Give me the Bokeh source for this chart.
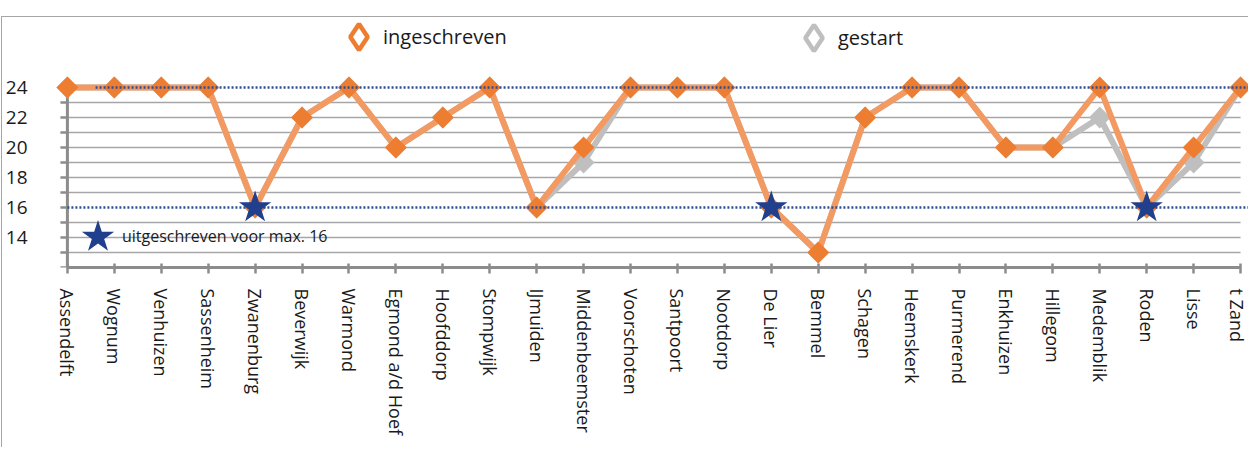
import math
import numpy as np
from bokeh.plotting import figure
from bokeh.models import ColumnDataSource, FixedTicker, Legend, LegendItem, Range1d
from bokeh.embed import file_html
from bokeh.resources import INLINE

# ---------------- data ----------------
categories = ["Assendelft", "Wognum", "Venhuizen", "Sassenheim", "Zwanenburg", "Beverwijk",
              "Warmond", "Egmond a/d Hoef", "Hoofddorp", "Stompwijk", "IJmuiden",
              "Middenbeemster", "Voorschoten", "Santpoort", "Nootdorp", "De Lier", "Bemmel",
              "Schagen", "Heemskerk", "Purmerend", "Enkhuizen", "Hillegom", "Medemblik",
              "Roden", "Lisse", "t Zand"]
ingeschreven = [24, 24, 24, 24, 16, 22, 24, 20, 22, 24, 16, 20, 24, 24, 24, 16, 13, 22, 24, 24,
                20, 20, 24, 16, 20, 24]
gestart = [24, 24, 24, 24, 16, 22, 24, 20, 22, 24, 16, 19, 24, 24, 24, 16, 13, 22, 24, 24,
           20, 20, 22, 16, 19, 24]
max16 = ["Zwanenburg", "De Lier", "Roden"]
max16_value = 16
y_tick_labels = [14, 16, 18, 20, 22, 24]
y_min, y_max = 12, 24
ref_levels = [24, 16]
ref_starts = [0.6, 0.0]

# ---------------- styling ----------------
ORANGE = "#ED7D31"
ORANGE_LINE = "#F29A62"
GREY = "#BFBFBF"
BLUE = "#203F8C"
DOT_BLUE = "#2F4E93"
AXIS = "#8C8C8C"
GRID = "#A6A6A6"
TEXT = "#1a1a1a"
FONT = "Open Sans"

W, H = 1247, 431
LEFT, BOTTOM = 42, 181
U = 47.24          # px per category
V = 15.0           # px per unit on y
frame_w = W - LEFT
frame_h = H - BOTTOM
x0 = -15.0 / U
ORIGIN = (10, 17)  # page position of the figure content
FRAME_LEFT = ORIGIN[0] + LEFT
FRAME_BOTTOM = ORIGIN[1] + frame_h

x = list(range(len(categories)))
src = ColumnDataSource(dict(x=x, ing=ingeschreven, ges=gestart))
star_x = [categories.index(c) for c in max16]
star_src = ColumnDataSource(dict(x=star_x, y=[max16_value] * len(star_x)))

p = figure(width=W, height=H, output_backend="svg", toolbar_location=None,
           x_range=Range1d(x0, x0 + frame_w / U), y_range=Range1d(y_min, y_min + frame_h / V),
           min_border_left=LEFT, min_border_right=0, min_border_top=0,
           min_border_bottom=BOTTOM)
p.styles = {"margin-top": "16px", "margin-left": "1px",
            "border-left": "1px solid #A6A6A6", "border-top": "1px solid #A6A6A6"}
p.outline_line_color = None
p.background_fill_color = "white"
p.border_fill_color = "white"
p.xgrid.visible = False
p.ygrid.visible = False

# x axis
xa = p.xaxis[0]
xa.ticker = FixedTicker(ticks=x)
xa.major_label_overrides = {i: c for i, c in enumerate(categories)}
xa.major_label_orientation = -math.pi / 2
xa.bounds = (0, len(categories) - 1)
xa.axis_line_color = AXIS
xa.axis_line_width = 3
xa.major_tick_line_color = AXIS
xa.major_tick_line_width = 2.5
xa.major_tick_in = 4
xa.major_tick_out = 6
xa.minor_tick_line_color = None
xa.major_label_standoff = 15
xa.major_label_text_font = FONT
xa.major_label_text_font_size = "18px"
xa.major_label_text_color = TEXT

# y axis (labels only; line and ticks drawn at x = 0)
ya = p.yaxis[0]
ya.ticker = FixedTicker(ticks=y_tick_labels)
ya.axis_line_color = None
ya.major_tick_line_color = None
ya.minor_tick_line_color = None
ya.major_label_standoff = 19
ya.major_label_text_font = FONT
ya.major_label_text_font_size = "19px"
ya.major_label_text_color = TEXT

all_units = list(range(y_min, y_max + 1))
grid_vals = [v for v in range(y_min + 1, y_max) if v not in ref_levels]
p.segment(x0=[0] * len(grid_vals), x1=[len(categories) - 1] * len(grid_vals),
          y0=grid_vals, y1=grid_vals, line_color=GRID, line_width=1.3)
p.segment(x0=[0], x1=[0], y0=[y_min], y1=[y_max], line_color=AXIS, line_width=3)
p.ray(x=[0] * len(all_units), y=all_units, length=7, length_units="screen",
      angle=math.pi, line_color=AXIS, line_width=2.5)

# series
p.line("x", "ges", source=src, line_color=GREY, line_width=6, line_join="round")
p.scatter("x", "ges", source=src, marker="square", angle=math.pi / 4, size=15.5,
          fill_color=GREY, line_color=None)
p.line("x", "ing", source=src, line_color=ORANGE_LINE, line_width=6, line_join="round")
p.scatter("x", "ing", source=src, marker="square", angle=math.pi / 4, size=15.5,
          fill_color=ORANGE, line_color=None)

# reference dotted lines
p.segment(x0=ref_starts, x1=[x0 + frame_w / U + 1] * len(ref_levels), y0=ref_levels,
          y1=ref_levels, line_color=DOT_BLUE, line_width=2.5, line_dash="2 2")

stars = p.scatter("x", "y", source=star_src, marker="star", size=34, fill_color=BLUE,
                  line_color=None)

# legend glyph renderers (NaN position: not drawn in the plot itself)
nan = np.array([np.nan])
leg_ing = p.scatter(nan, nan, marker="diamond", size=26, fill_color="white",
                    line_color=ORANGE, line_width=4.5)
leg_ges = p.scatter(nan, nan, marker="diamond", size=26, fill_color="white",
                    line_color=GREY, line_width=4.5)
blank = p.scatter(nan, nan, size=1, fill_alpha=0, line_alpha=0)


def _legend(label, r, loc, gw, gh, size="16px"):
    return Legend(items=[LegendItem(label=label, renderers=[r])], location=loc,
                  orientation="horizontal", glyph_width=int(gw), glyph_height=int(gh),
                  label_standoff=0, padding=0, margin=0, spacing=0,
                  border_line_alpha=0, background_fill_alpha=0,
                  label_text_font=FONT, label_text_font_size=size,
                  label_text_color=TEXT)


def legend_mark(r, cx, cy, size):
    g = int(round(size / 0.4))
    return _legend(" ", r, (cx - g / 2 - FRAME_LEFT, FRAME_BOTTOM - (cy + g / 2)), g, g)


def legend_text(label, tx, cy, size):
    gh = 32
    return _legend(label, blank, (tx - 1 - FRAME_LEFT, FRAME_BOTTOM - (cy + gh / 2)), 1, gh,
                   size)


p.add_layout(legend_mark(leg_ing, 358, 36, 26))
p.add_layout(legend_text("ingeschreven", 383, 36, "20px"))
p.add_layout(legend_mark(leg_ges, 813, 37, 26))
p.add_layout(legend_text("gestart", 838, 37, "20px"))
p.add_layout(legend_mark(stars, 97, 236, 34))
p.add_layout(legend_text("uitgeschreven voor max. 16", 122, 236, "16px"))

open("out.html", "w").write(file_html(p, INLINE))
